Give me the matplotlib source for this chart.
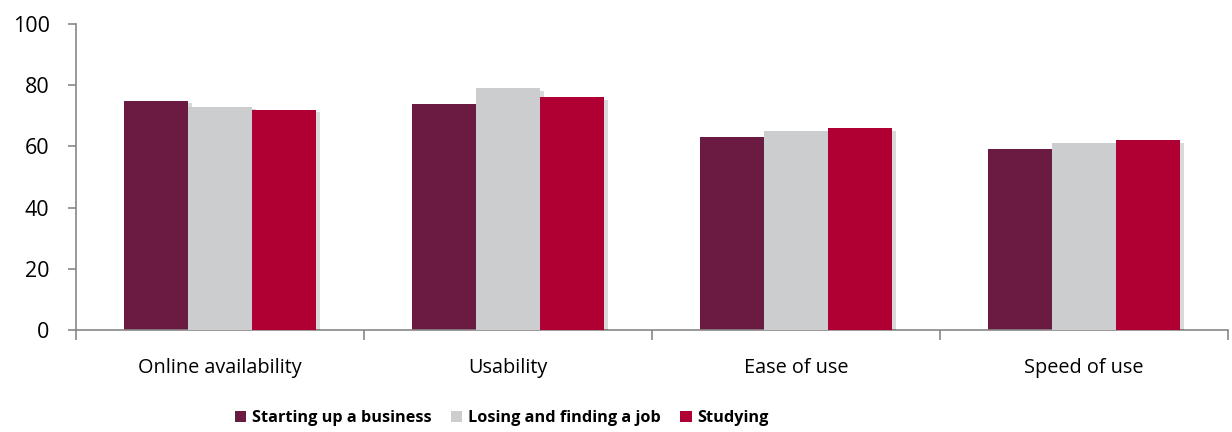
import numpy as np
import matplotlib
matplotlib.use("Agg")
import matplotlib.pyplot as plt
import matplotlib.patheffects as pe
from matplotlib.patches import Patch

# Data
categories = ["Online availability", "Usability", "Ease of use", "Speed of use"]
series_names = ["Starting up a business", "Losing and finding a job", "Studying"]
starting_business = [75, 74, 63, 59]
losing_job = [73, 79, 65, 61]
studying = [72, 76, 66, 62]
colors = ["#6B1A41", "#CCCDCF", "#B00033"]
yticks = [0, 20, 40, 60, 80, 100]

plt.rcParams["font.family"] = ["Open Sans", "DejaVu Sans"]

fig = plt.figure(figsize=(12.32, 4.32), dpi=100)
ax = fig.add_axes([76 / 1232, 1 - 330 / 432, (1228 - 76) / 1232, (330 - 24) / 432])

x = np.arange(len(categories))
width = 0.222
shadow = [pe.SimplePatchShadow(offset=(3, -2), shadow_rgbFace="#000000", alpha=0.15), pe.Normal()]
for i, vals in enumerate([starting_business, losing_job, studying]):
    bars = ax.bar(x + (i - 1) * width, vals, width, color=colors[i], zorder=2 + i)
    for b in bars:
        b.set_path_effects(shadow)

ax.set_xlim(-0.5, len(categories) - 0.5)
ax.set_ylim(0, 100)
ax.set_yticks(yticks)
ax.set_yticklabels([str(t) for t in yticks], fontsize=15.5)

# category labels between boundary ticks
ax.set_xticks(np.arange(len(categories) + 1) - 0.5)
ax.set_xticklabels([])
ax.set_xticks(x, minor=True)
ax.set_xticklabels(categories, minor=True, fontsize=14.3)
ax.tick_params(axis="x", which="minor", length=0, pad=20)
ax.tick_params(axis="x", which="major", length=7, width=1.2, color="#878787")
ax.tick_params(axis="y", length=6, width=1.2, color="#878787", pad=13)

for side in ["top", "right"]:
    ax.spines[side].set_visible(False)
for side in ["left", "bottom"]:
    ax.spines[side].set_color("#878787")
    ax.spines[side].set_linewidth(1.2)

handles = [Patch(facecolor=c, label=n) for c, n in zip(colors, series_names)]
fig.legend(handles=handles, loc="lower left", bbox_to_anchor=(220 / 1232, -0.02), ncol=3,
           frameon=False, handlelength=0.7, handleheight=0.7, handletextpad=0.35,
           columnspacing=1.2, prop={"weight": "bold", "size": 11.7})

fig.savefig("out.png", dpi=100)
